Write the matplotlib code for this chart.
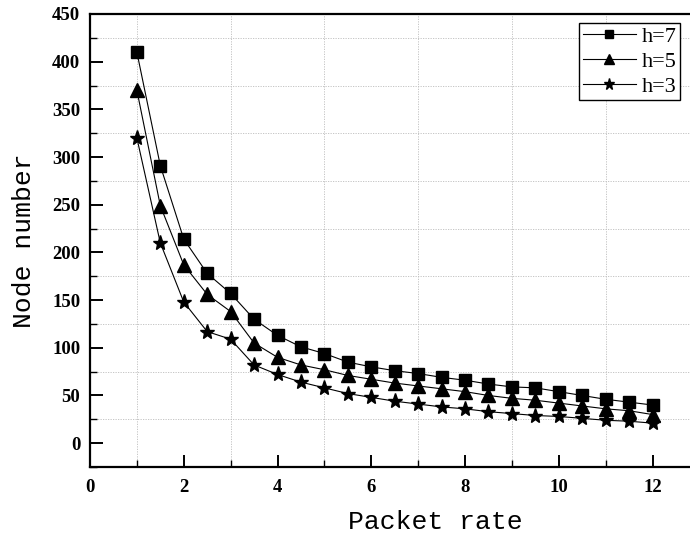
import numpy as np
import matplotlib.pyplot as plt
from matplotlib.ticker import MultipleLocator

# packet rate on the x axis, node counts for each hop limit
packet_rate = [1, 1.5, 2, 2.5, 3, 3.5, 4, 4.5, 5, 5.5, 6, 6.5,
               7, 7.5, 8, 8.5, 9, 9.5, 10, 10.5, 11, 11.5, 12]
h7 = [410, 291, 214, 178, 157, 130, 113, 101, 94, 85, 80, 76,
      73, 69, 66, 62, 59, 58, 54, 50, 46, 43, 40]
h5 = [370, 249, 187, 156, 138, 105, 90, 82, 77, 71, 67, 63,
      60, 57, 54, 50, 47, 45, 42, 39, 36, 34, 30]
h3 = [320, 210, 148, 117, 109, 82, 72, 64, 58, 52, 48, 44,
      41, 38, 36, 33, 31, 29, 28, 26, 24, 23, 21]

fig = plt.figure(figsize=(6.9, 5.38), dpi=100)
ax = fig.add_axes([90 / 690, 1 - 467 / 538, 1 - 90 / 690, (467 - 14) / 538])

ax.plot(packet_rate, h7, color='black', lw=0.8, marker='s', ms=8, label='h=7')
ax.plot(packet_rate, h5, color='black', lw=0.8, marker='^', ms=10, label='h=5')
ax.plot(packet_rate, h3, color='black', lw=0.8, marker='*', ms=11, label='h=3')

ax.set_xlim(0, 12.8)
ax.set_ylim(-25, 450)
ax.xaxis.set_major_locator(MultipleLocator(2))
ax.xaxis.set_minor_locator(MultipleLocator(1))
ax.yaxis.set_major_locator(MultipleLocator(50))
ax.yaxis.set_minor_locator(MultipleLocator(25))

# grid only on the minor positions, like Origin's default
ax.grid(which='minor', color='#bdbdbd', ls=(0, (1.5, 1.5)), lw=0.6)
ax.set_axisbelow(True)

for side in ['left', 'bottom', 'top']:
    ax.spines[side].set_linewidth(1.6)
ax.spines['right'].set_visible(False)

ax.tick_params(which='major', direction='in', length=9, width=1.4)
ax.tick_params(which='minor', direction='in', length=5, width=1.0)
ax.tick_params(axis='y', which='major', pad=7)
ax.tick_params(axis='x', which='major', pad=9)
for lab in ax.get_xticklabels() + ax.get_yticklabels():
    lab.set_fontfamily('Liberation Serif')
    lab.set_fontweight('bold')
    lab.set_fontsize(13.5)

ax.set_xlabel('Packet rate', family='Liberation Mono', fontsize=19)
ax.set_ylabel('Node number', family='Liberation Mono', fontsize=19)
ax.xaxis.set_label_coords(0.575, -0.095)
ax.yaxis.set_label_coords(-0.09, 0.5)

leg = ax.legend(loc='upper right', bbox_to_anchor=(0.983, 0.98), borderaxespad=0,
                fancybox=False, edgecolor='black', framealpha=1, markerscale=0.75,
                handlelength=2.4, handletextpad=0.25, labelspacing=0.2,
                borderpad=0.15, prop={'family': 'Liberation Serif', 'size': 16})
leg.get_frame().set_linewidth(1.0)

fig.savefig('out.png', dpi=100)
